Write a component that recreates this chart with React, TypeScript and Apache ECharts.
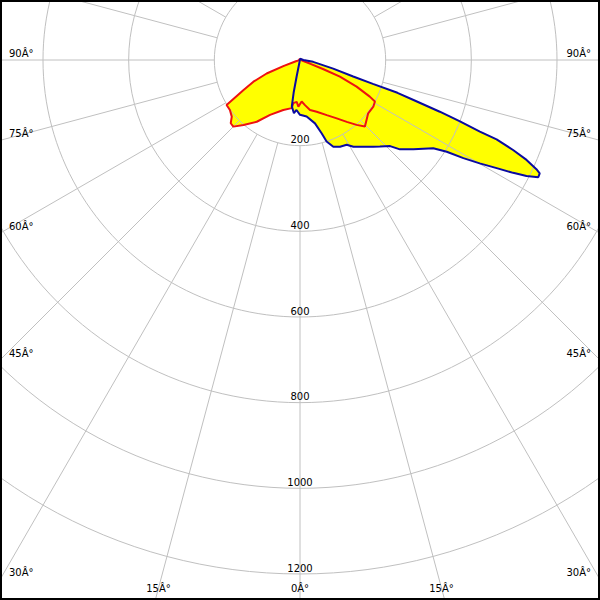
import React, { useEffect, useRef } from "react";
import * as echarts from "echarts";

// Grid / ticks
const GRID_ANGLES = [-165, -150, -135, -120, -105, -90, -75, -60, -45, -30, -15, 0, 15, 30, 45, 60, 75, 90, 105, 120, 135, 150, 165, 180];
const LABEL_ANGLES = [-90, -75, -60, -45, -30, -15, 0, 15, 30, 45, 60, 75, 90];
const RADIUS_TICKS = [200, 400, 600, 800, 1000, 1200];
const RADIUS_LABELS = ["200", "400", "600", "800", "1000", "1200"];
const DEG_SUFFIX = "Â°";

// Red curve (gamma in degrees, intensity in cd)
const RED_GAMMA = [-180, -75, -73, -70, -68, -65, -62, -58.5, -54.5, -50.3, -47.6, -45, -41, -35, -28.6, -18.5, -9.8, -8.8, -4.5, -2, 2.3, 6.3, 11.3, 17.9, 25.9, 32.2, 37.1, 41.1, 44.3, 48, 52, 57.5, 61, 62.3, 64.8, 67.3, 68.5, 70, 73, 180];
const RED_CD = [3, 3, 10, 40, 84, 120, 150, 201, 201, 207, 219, 220, 201, 176, 146, 123, 114, 102, 98, 109, 97, 106, 119, 127, 143, 161, 181, 201, 217, 209, 202, 203, 200, 184, 146, 101, 59, 26, 5, 3];

// Blue curve
const BLUE_GAMMA = [-180, -15, -12.5, -11.5, -11, -10, -6.5, -4, 0, 6.7, 13.3, 16.5, 18.1, 21, 24.8, 28.8, 31.6, 36, 40.2, 42.7, 46.3, 48.2, 51.8, 56.5, 58, 59, 60.1, 61.2, 62.1, 62.9, 63.8, 64.7, 65.2, 66.2, 67.1, 68.0, 68.3, 69.0, 69.7, 70.6, 71.4, 71.9, 72.8, 75.5, 82, 90, 180];
const BLUE_CD = [3, 3, 10, 40, 78, 110, 125, 117, 128, 133, 152, 179, 200, 217, 223, 226, 238, 250, 265, 275, 291, 313, 337, 373, 404, 445, 484, 524, 563, 594, 620, 619, 608, 578, 540, 495, 452, 400, 348, 281, 240, 179, 130, 80, 31, 8, 3];

const FONT = '10px "DejaVu Sans"';
const GRID_COLOR = "#c0c0c0";

export default function App() {
  const ref = useRef<HTMLDivElement>(null);
  useEffect(() => {
    const chart = echarts.init(ref.current!, null, { renderer: "svg" });
    const redData = RED_GAMMA.map((g, i) => [RED_CD[i], g]);
    const blueData = BLUE_GAMMA.map((g, i) => [BLUE_CD[i], g]);
    const maxR = RADIUS_TICKS[RADIUS_TICKS.length - 1];

    const option: any = {
      animation: false,
      backgroundColor: "#ffffff",
      polar: { center: [300, 60], radius: 514 },
      angleAxis: {
        type: "value",
        min: -180,
        max: 180,
        startAngle: 90,
        clockwise: false,
        axisLine: { show: false },
        axisTick: { show: false },
        axisLabel: { show: false },
        splitLine: { show: false },
      },
      radiusAxis: {
        type: "value",
        min: 0,
        max: maxR,
        interval: 200,
        z: 3,
        axisLine: { show: false },
        axisTick: { show: false },
        axisLabel: { show: false },
        splitLine: { show: true, lineStyle: { color: GRID_COLOR, width: 1 } },
      },
      series: [
        {
          type: "custom",
          coordinateSystem: "polar",
          silent: true,
          z: 1,
          data: [[0, 0]],
          renderItem: (params: any, api: any) => {
            const redPts = redData.map((d) => api.coord(d));
            const bluePts = blueData.map((d) => api.coord(d));
            return {
              type: "group",
              children: [
                { type: "polygon", shape: { points: bluePts }, style: { fill: "#ffff00", stroke: null } },
                { type: "polygon", shape: { points: redPts }, style: { fill: "#ffff00", stroke: null } },
              ],
            };
          },
        },
        {
          type: "custom",
          coordinateSystem: "polar",
          silent: true,
          z: 3,
          data: GRID_ANGLES.map((a) => [RADIUS_TICKS[0], a]),
          renderItem: (params: any, api: any) => {
            const r0 = api.value(0);
            const a = api.value(1);
            const p0 = api.coord([r0, a]);
            const p1 = api.coord([maxR, a]);
            const dx = p1[0] - p0[0];
            const dy = p1[1] - p0[1];
            const len = Math.hypot(dx, dy);
            const ux = dx / len;
            const uy = dy / len;
            return {
              type: "line",
              shape: { x1: p0[0], y1: p0[1], x2: p0[0] + ux * 1200, y2: p0[1] + uy * 1200 },
              style: { stroke: GRID_COLOR, lineWidth: 1 },
            };
          },
        },
        {
          type: "custom",
          coordinateSystem: "polar",
          silent: true,
          z: 4,
          data: RADIUS_TICKS.map((r) => [r, 0]),
          renderItem: (params: any, api: any) => {
            const p = api.coord([api.value(0), 0]);
            return {
              type: "text",
              style: {
                text: RADIUS_LABELS[params.dataIndex],
                x: p[0],
                y: p[1] - 6,
                align: "center",
                verticalAlign: "middle",
                font: FONT,
                fill: "#000000",
              },
            };
          },
        },
        {
          type: "custom",
          coordinateSystem: "polar",
          silent: true,
          z: 4,
          data: LABEL_ANGLES.map((a) => [maxR, a]),
          renderItem: (params: any, api: any) => {
            const a = api.value(1);
            const W = api.getWidth();
            const H = api.getHeight();
            const c = api.coord([0, a]);
            const p1 = api.coord([maxR, a]);
            const dx = p1[0] - c[0];
            const dy = p1[1] - c[1];
            const len = Math.hypot(dx, dy);
            const ux = dx / len;
            const uy = dy / len;
            const text = `${Math.abs(a)}${DEG_SUFFIX}`;
            let tSide = Infinity;
            if (ux < -1e-9) tSide = (0 - c[0]) / ux;
            else if (ux > 1e-9) tSide = (W - c[0]) / ux;
            let tBottom = Infinity;
            if (uy > 1e-9) tBottom = (H - c[1]) / uy;
            if (tSide <= tBottom) {
              const y = c[1] + uy * tSide - 7;
              const left = ux < 0;
              return {
                type: "text",
                style: {
                  text,
                  x: left ? 9 : W - 9,
                  y,
                  align: left ? "left" : "right",
                  verticalAlign: "middle",
                  font: FONT,
                  fill: "#000000",
                },
              };
            }
            const yl = H - 12;
            const t = (yl - c[1]) / uy;
            return {
              type: "text",
              style: {
                text,
                x: c[0] + ux * t,
                y: yl,
                align: "center",
                verticalAlign: "middle",
                font: FONT,
                fill: "#000000",
              },
            };
          },
        },
        {
          type: "line",
          coordinateSystem: "polar",
          data: redData,
          symbol: "none",
          showSymbol: false,
          silent: true,
          clip: false,
          z: 5,
          lineStyle: { color: "#ee1111", width: 2 },
        },
        {
          type: "line",
          coordinateSystem: "polar",
          data: blueData,
          symbol: "none",
          showSymbol: false,
          silent: true,
          clip: false,
          z: 6,
          lineStyle: { color: "#0a0aa0", width: 2 },
        },
      ],
      graphic: [
        {
          type: "rect",
          z: 100,
          silent: true,
          shape: { x: 1, y: 1, width: 598, height: 598 },
          style: { fill: "none", stroke: "#000000", lineWidth: 2 },
        },
      ],
    };
    chart.setOption(option);
    return () => chart.dispose();
  }, []);
  return <div ref={ref} style={{ position: "absolute", left: 0, top: 0, width: 600, height: 600 }} />;
}
